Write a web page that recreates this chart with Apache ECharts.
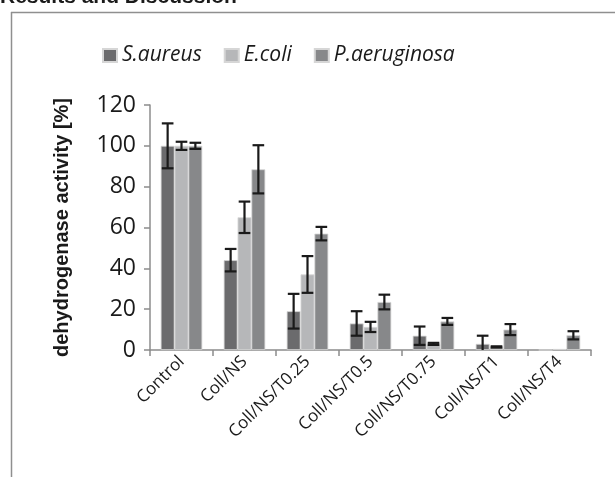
<!DOCTYPE html>
<html>
<head>
<meta charset="utf-8">
<script src="https://cdn.jsdelivr.net/npm/echarts@6/dist/echarts.min.js"></script>
<style>html,body{margin:0;padding:0;background:#fff}#c{width:615px;height:477px}</style>
</head>
<body>
<div id="c"></div>
<script>
const categories = ['Control','Coll/NS','Coll/NS/T0.25','Coll/NS/T0.5','Coll/NS/T0.75','Coll/NS/T1','Coll/NS/T4'];
const seriesNames = ['S.aureus','E.coli','P.aeruginosa'];
const saureus = [100, 44, 19, 13, 7, 3, 0];
const saureusErr = [11, 5.5, 8.5, 6, 4.5, 4, 0];
const ecoli = [100, 65, 37, 11.3, 3, 1.5, 0.5];
const ecoliErr = [2, 7.7, 9, 2.5, 0.5, 0.3, 0];
const paer = [100, 88.5, 57, 23.5, 14, 10, 7.2];
const paerErr = [1.5, 11.8, 3.3, 3.6, 1.7, 2.7, 2];
const yTicks = [0, 20, 40, 60, 80, 100, 120];

const colors = ['#6b6b6d', '#b6b7b9', '#87888a'];
const values = [saureus, ecoli, paer];
const errs = [saureusErr, ecoliErr, paerErr];
const catGap = 0.34;

const chart = echarts.init(document.getElementById('c'), null, {renderer: 'canvas'});

const barSeries = seriesNames.map((n, i) => ({
  name: n, type: 'bar', data: values[i],
  barGap: '0%', barCategoryGap: (catGap * 100) + '%',
  itemStyle: {color: colors[i], borderColor: '#d6d6d6', borderWidth: 0.8},
  emphasis: {disabled: true}
}));

const errSeries = seriesNames.map((n, i) => ({
  type: 'custom', name: n + '_err', z: 10, silent: true,
  data: values[i].map((v, k) => [k, v, errs[i][k]]),
  renderItem: function (params, api) {
    const k = api.value(0), v = api.value(1), e = api.value(2);
    if (e <= 0) return null;
    const band = api.size([1, 0])[0];
    const bw = band * (1 - catGap) / 3;
    const cx = api.coord([k, 0])[0] + (i - 1) * bw;
    const lo = Math.max(0, v - e);
    const yHi = api.coord([k, v + e])[1];
    const yLo = api.coord([k, lo])[1];
    const cw = bw * 0.42;
    const st = {stroke: '#1a1a1a', lineWidth: 2.2};
    const ch = [
      {type: 'line', shape: {x1: cx, y1: yHi, x2: cx, y2: yLo}, style: st},
      {type: 'line', shape: {x1: cx - cw, y1: yHi, x2: cx + cw, y2: yHi}, style: st}
    ];
    if (v - e >= 0) ch.push({type: 'line', shape: {x1: cx - cw, y1: yLo, x2: cx + cw, y2: yLo}, style: st});
    return {type: 'group', children: ch};
  }
}));

chart.setOption({
  animation: false,
  backgroundColor: '#fff',
  graphic: [
    {type: 'text', x: 0, y: 8, style: {text: 'Results and Discussion', font: 'bold 21px "Liberation Sans", Arial, sans-serif', fill: '#1a1a1a', verticalAlign: 'bottom'}},
    {type: 'line', shape: {x1: 11, y1: 12.5, x2: 615, y2: 12.5}, style: {stroke: '#8f8f8f', lineWidth: 1.5}},
    {type: 'line', shape: {x1: 11.5, y1: 12, x2: 11.5, y2: 477}, style: {stroke: '#8f8f8f', lineWidth: 1.5}}
  ],
  legend: {
    data: seriesNames, left: 97, top: 40, itemWidth: 14, itemHeight: 13, itemGap: 22,
    icon: 'rect',
    textStyle: {fontFamily: '"Open Sans", sans-serif', fontStyle: 'italic', fontSize: 21, color: '#1a1a1a'}
  },
  grid: {left: 150, right: 24, top: 105, bottom: 127, containLabel: false},
  xAxis: {
    type: 'category', data: categories,
    axisLine: {lineStyle: {color: '#8c8c8c', width: 1.5}},
    axisTick: {show: true, length: 6, lineStyle: {color: '#8c8c8c', width: 1.5}},
    axisLabel: {rotate: 45, interval: 0, fontFamily: '"Open Sans", sans-serif', fontSize: 17, color: '#1a1a1a', margin: 9}
  },
  yAxis: {
    type: 'value', min: 0, max: 120, interval: 20,
    name: 'dehydrogenase activity [%]', nameLocation: 'middle', nameGap: 78,
    nameTextStyle: {fontFamily: '"Liberation Sans", Arial, sans-serif', fontWeight: 'bold', fontSize: 20, color: '#1a1a1a'},
    axisLine: {show: true, lineStyle: {color: '#8c8c8c', width: 1.5}},
    axisTick: {show: true, length: 6, lineStyle: {color: '#8c8c8c', width: 1.5}},
    splitLine: {show: false},
    axisLabel: {fontFamily: '"Open Sans", sans-serif', fontSize: 23, color: '#1a1a1a', margin: 14,
      formatter: v => yTicks.includes(v) ? String(v) : ''}
  },
  series: barSeries.concat(errSeries)
});
</script>
</body>
</html>
